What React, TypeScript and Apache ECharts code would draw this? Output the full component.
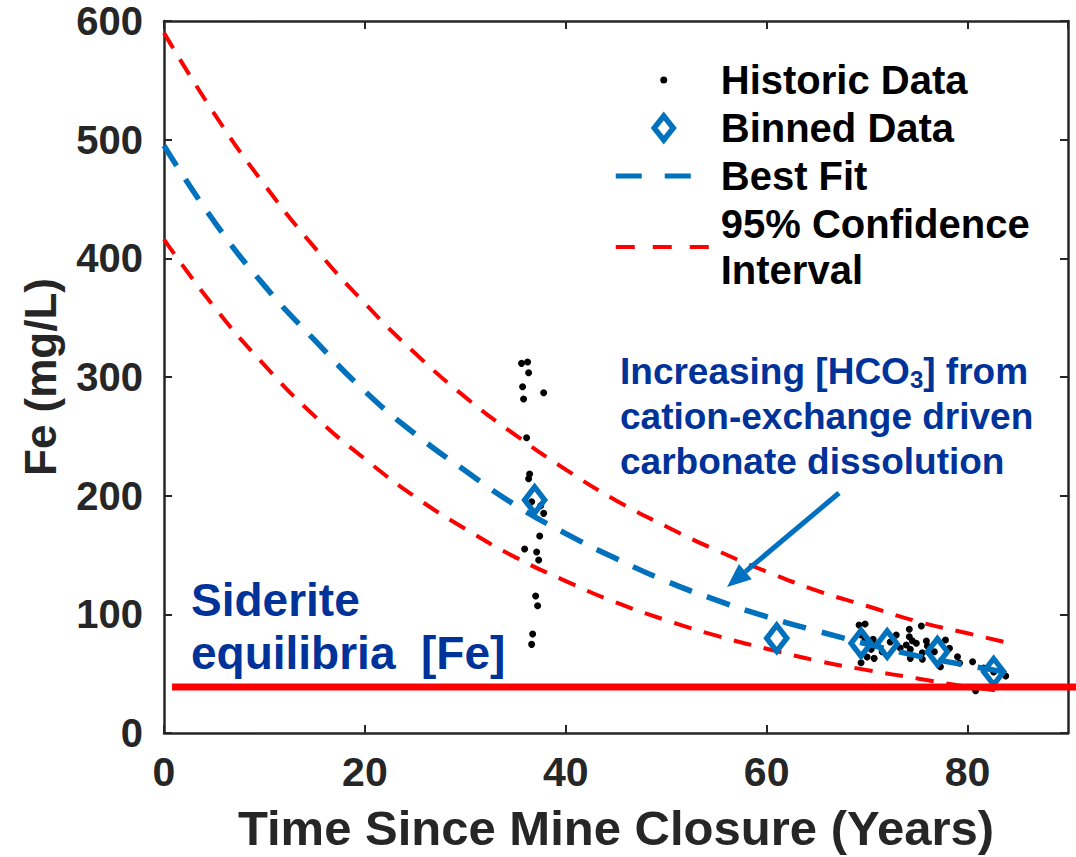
import React, { useEffect, useRef } from 'react';
import * as echarts from 'echarts';

// ---------- data ----------
const historicCluster1: number[][] = [
  [35.6, 311.5], [36.2, 312.6], [36.3, 303.6], [35.7, 291.8], [37.8, 286.8],
  [35.8, 281.5], [36.1, 248.8], [36.4, 218.3], [36.3, 214.3], [36.6, 194.9],
  [37.5, 191.5], [37.8, 185.1], [37.4, 166.0], [35.9, 155.1], [37.1, 152.5],
  [37.3, 145.8], [37.0, 115.4], [37.2, 107.3], [36.7, 83.4], [36.6, 74.7],
];
const historicCluster2: number[][] = [
  [69.2, 91.0], [69.8, 91.9], [69.4, 82.6], [74.2, 87.4], [75.4, 90.2],
  [72.9, 82.6], [74.2, 81.1], [74.5, 77.8], [74.9, 75.6], [73.9, 74.2],
  [75.9, 77.5], [70.6, 79.0], [70.8, 74.2], [70.4, 70.5], [71.5, 68.5],
  [74.3, 70.5], [75.5, 67.7], [70.7, 62.9], [74.3, 62.9], [75.5, 62.1],
  [69.4, 59.2], [78.2, 71.4], [79.0, 64.3], [77.3, 55.9], [80.5, 60.1],
  [83.8, 48.0], [80.8, 35.6], [76.7, 68.5], [69.8, 78.4], [72.3, 76.7],
  [73.3, 71.6], [76.0, 73.3], [81.6, 54.8], [82.6, 51.4], [79.2, 59.0],
  [70.0, 64.0], [77.8, 78.4],
];
const binnedData: number[][] = [
  [36.9, 196.3], [61.0, 79.8], [69.4, 75.6], [72.0, 75.0], [77.0, 68.5], [82.6, 51.7],
];
const bestFit: number[][] = [
  [0, 495], [5, 431], [10, 377], [15, 331], [20, 288], [25, 252], [30, 221], [35, 192],
  [40, 168], [45, 147], [50, 128], [55, 112], [60, 98], [65, 86], [70, 75], [75, 65],
  [80, 57], [84, 51],
];
const ciUpper: number[][] = [
  [0, 590], [5, 522], [10, 462], [15, 409], [20, 362], [25, 320], [30, 283], [35, 251],
  [40, 222], [45, 196], [50, 174], [55, 154], [60, 136], [65, 120], [70, 107], [75, 94],
  [80, 84], [84, 76],
];
const ciLower: number[][] = [
  [0, 416], [5, 359], [10, 310], [15, 267], [20, 231], [25, 199], [30, 172], [35, 148],
  [40, 128], [45, 110], [50, 95], [55, 82], [60, 71], [65, 61], [70, 53], [75, 46],
  [80, 39], [84, 35],
];
const sideriteLine = { startYear: 0.8, fe: 38.8 };
const xRange = [0, 90];
const yRange = [0, 600];

const NAME_HIST = 'Historic Data';
const NAME_BIN = 'Binned Data';
const NAME_FIT = 'Best Fit';
const NAME_CI = '95% Confidence\nInterval';

// ---------- styles ----------
const FONT = "'Liberation Sans', Arial, Helvetica, sans-serif";
const AXIS = '#262626';
const NAVY = '#00339A';
const BLUE = '#0072BD';
const ARROW = '#0070C0';
const RED = '#FF0000';

const axisCommon = {
  axisLine: { show: true, onZero: false, lineStyle: { color: AXIS, width: 2.5 } },
  axisTick: { show: true, inside: true, length: 8, lineStyle: { color: AXIS, width: 2 } },
  splitLine: { show: false },
};

function buildOption() {
  return {
    animation: false,
    backgroundColor: '#ffffff',
    grid: { left: 164, right: 8, top: 21, bottom: 124, containLabel: false },
    legend: {
      orient: 'vertical',
      left: 613,
      top: 57,
      padding: 0,
      itemGap: 2,
      itemWidth: 100,
      itemHeight: 30,
      selectedMode: false,
      textStyle: { fontSize: 40, fontWeight: 'bold', fontFamily: FONT, color: '#000', lineHeight: 46 },
      data: [
        {
          name: NAME_HIST,
          icon: 'path://M0,0M100,30M44.5,15a3.5,3.5 0 1,0 7,0a3.5,3.5 0 1,0 -7,0z',
          itemStyle: { color: '#000', borderWidth: 0 },
        },
        {
          name: NAME_BIN,
          icon: 'path://M0,0M100,30M48,3L57.5,15L48,27L38.5,15Z',
          itemStyle: { color: '#fff', borderColor: BLUE, borderWidth: 5.5 },
        },
        {
          name: NAME_FIT,
          icon: 'path://M0,0M100,30M0,12.5h26v5h-26zM49,12.5h26v5h-26z',
          itemStyle: { color: BLUE, borderWidth: 0 },
        },
        {
          name: NAME_CI,
          icon: 'path://M0,0M100,30M0,13h19v4h-19zM37,13h19v4h-19zM74,13h19v4h-19z',
          itemStyle: { color: RED, borderWidth: 0 },
        },
      ],
    },
    xAxis: [
      {
        type: 'value',
        position: 'bottom',
        min: xRange[0],
        max: xRange[1],
        interval: 20,
        ...axisCommon,
        axisLabel: {
          show: true,
          showMaxLabel: false,
          margin: 18,
          fontSize: 41,
          fontWeight: 'bold',
          fontFamily: FONT,
          color: AXIS,
        },
        name: 'Time Since Mine Closure (Years)',
        nameLocation: 'middle',
        nameGap: 70,
        nameTextStyle: { fontSize: 49, fontWeight: 'bold', fontFamily: FONT, color: AXIS },
      },
      {
        type: 'value',
        position: 'top',
        min: xRange[0],
        max: xRange[1],
        interval: 20,
        ...axisCommon,
        axisLabel: { show: false },
      },
    ],
    yAxis: [
      {
        type: 'value',
        position: 'left',
        min: yRange[0],
        max: yRange[1],
        interval: 100,
        ...axisCommon,
        axisLabel: {
          show: true,
          margin: 21,
          fontSize: 40,
          fontWeight: 'bold',
          fontFamily: FONT,
          color: AXIS,
        },
        name: 'Fe (mg/L)',
        nameLocation: 'middle',
        nameGap: 102,
        nameTextStyle: { fontSize: 44, fontWeight: 'bold', fontFamily: FONT, color: AXIS },
      },
      {
        type: 'value',
        position: 'right',
        min: yRange[0],
        max: yRange[1],
        interval: 100,
        ...axisCommon,
        axisLabel: { show: false },
      },
    ],
    series: [
      {
        name: NAME_HIST,
        type: 'scatter',
        data: [...historicCluster1, ...historicCluster2],
        symbol: 'circle',
        symbolSize: 7,
        itemStyle: { color: '#000', opacity: 1 },
        z: 2,
      },
      {
        name: NAME_FIT,
        type: 'line',
        data: bestFit,
        smooth: true,
        symbol: 'none',
        itemStyle: { color: BLUE },
        lineStyle: { color: BLUE, width: 5.5, type: [24, 16] },
        z: 3,
      },
      {
        name: NAME_CI,
        type: 'line',
        data: ciUpper,
        smooth: true,
        symbol: 'none',
        itemStyle: { color: RED },
        lineStyle: { color: RED, width: 4, type: [18, 13] },
        z: 3,
      },
      {
        name: NAME_CI,
        type: 'line',
        data: ciLower,
        smooth: true,
        symbol: 'none',
        itemStyle: { color: RED },
        lineStyle: { color: RED, width: 4, type: [18, 13] },
        z: 3,
      },
      {
        name: NAME_BIN,
        type: 'scatter',
        data: binnedData,
        symbol: 'diamond',
        symbolSize: [20, 26],
        itemStyle: { color: 'rgba(255,255,255,0)', borderColor: BLUE, borderWidth: 5.5, opacity: 1 },
        z: 4,
      },
    ],
  };
}

function buildGraphics(sx: number, sy: number, width: number) {
  // arrow geometry (annotation)
  const tail = [839, 493];
  const tip = [727, 587];
  const dx = tip[0] - tail[0];
  const dy = tip[1] - tail[1];
  const len = Math.sqrt(dx * dx + dy * dy);
  const ux = dx / len;
  const uy = dy / len;
  const headLen = 24;
  const headHalf = 10;
  const bx = tip[0] - ux * headLen;
  const by = tip[1] - uy * headLen;
  const px = uy;
  const py = -ux;

  const navyText = (text: string, x: number, y: number, size: number) => ({
    type: 'text',
    x,
    y,
    z: 20,
    style: {
      text,
      fill: NAVY,
      fontSize: size,
      fontWeight: 'bold',
      fontFamily: FONT,
      align: 'left',
      verticalAlign: 'middle',
    },
  });

  return [
    {
      type: 'line',
      z: 15,
      shape: { x1: sx, y1: sy, x2: width, y2: sy },
      style: { stroke: RED, lineWidth: 7 },
    },
    navyText('Siderite', 191, 600, 46),
    navyText('equilibria\u00a0 [Fe]', 191, 653, 46),
    {
      type: 'text',
      x: 620,
      y: 371,
      z: 20,
      style: {
        text: 'Increasing [HCO{sub|3}] from',
        fill: NAVY,
        fontSize: 37,
        fontWeight: 'bold',
        fontFamily: FONT,
        lineHeight: 40,
        align: 'left',
        verticalAlign: 'middle',
        rich: {
          sub: {
            fill: NAVY,
            fontSize: 24,
            fontWeight: 'bold',
            fontFamily: FONT,
            lineHeight: 14,
            verticalAlign: 'bottom',
          },
        },
      },
    },
    navyText('cation-exchange driven', 620, 416, 37),
    navyText('carbonate dissolution', 620, 461, 37),
    {
      type: 'line',
      z: 20,
      shape: { x1: tail[0], y1: tail[1], x2: bx, y2: by },
      style: { stroke: ARROW, lineWidth: 5 },
    },
    {
      type: 'polygon',
      z: 20,
      shape: {
        points: [
          [tip[0], tip[1]],
          [bx + px * headHalf, by + py * headHalf],
          [bx - px * headHalf, by - py * headHalf],
        ],
      },
      style: { fill: ARROW },
    },
  ];
}

export default function App() {
  const ref = useRef<HTMLDivElement>(null);
  useEffect(() => {
    if (!ref.current) return;
    const chart = echarts.init(ref.current, null, { renderer: 'svg' });
    chart.setOption(buildOption() as any);
    const p = chart.convertToPixel({ xAxisIndex: 0, yAxisIndex: 0 } as any, [
      sideriteLine.startYear,
      sideriteLine.fe,
    ]) as number[];
    chart.setOption({ graphic: buildGraphics(p[0], p[1], chart.getWidth()) } as any);
    return () => {
      chart.dispose();
    };
  }, []);
  return (
    <div
      ref={ref}
      style={{ position: 'fixed', left: 0, top: 0, width: 1076, height: 857, background: '#fff' }}
    />
  );
}
